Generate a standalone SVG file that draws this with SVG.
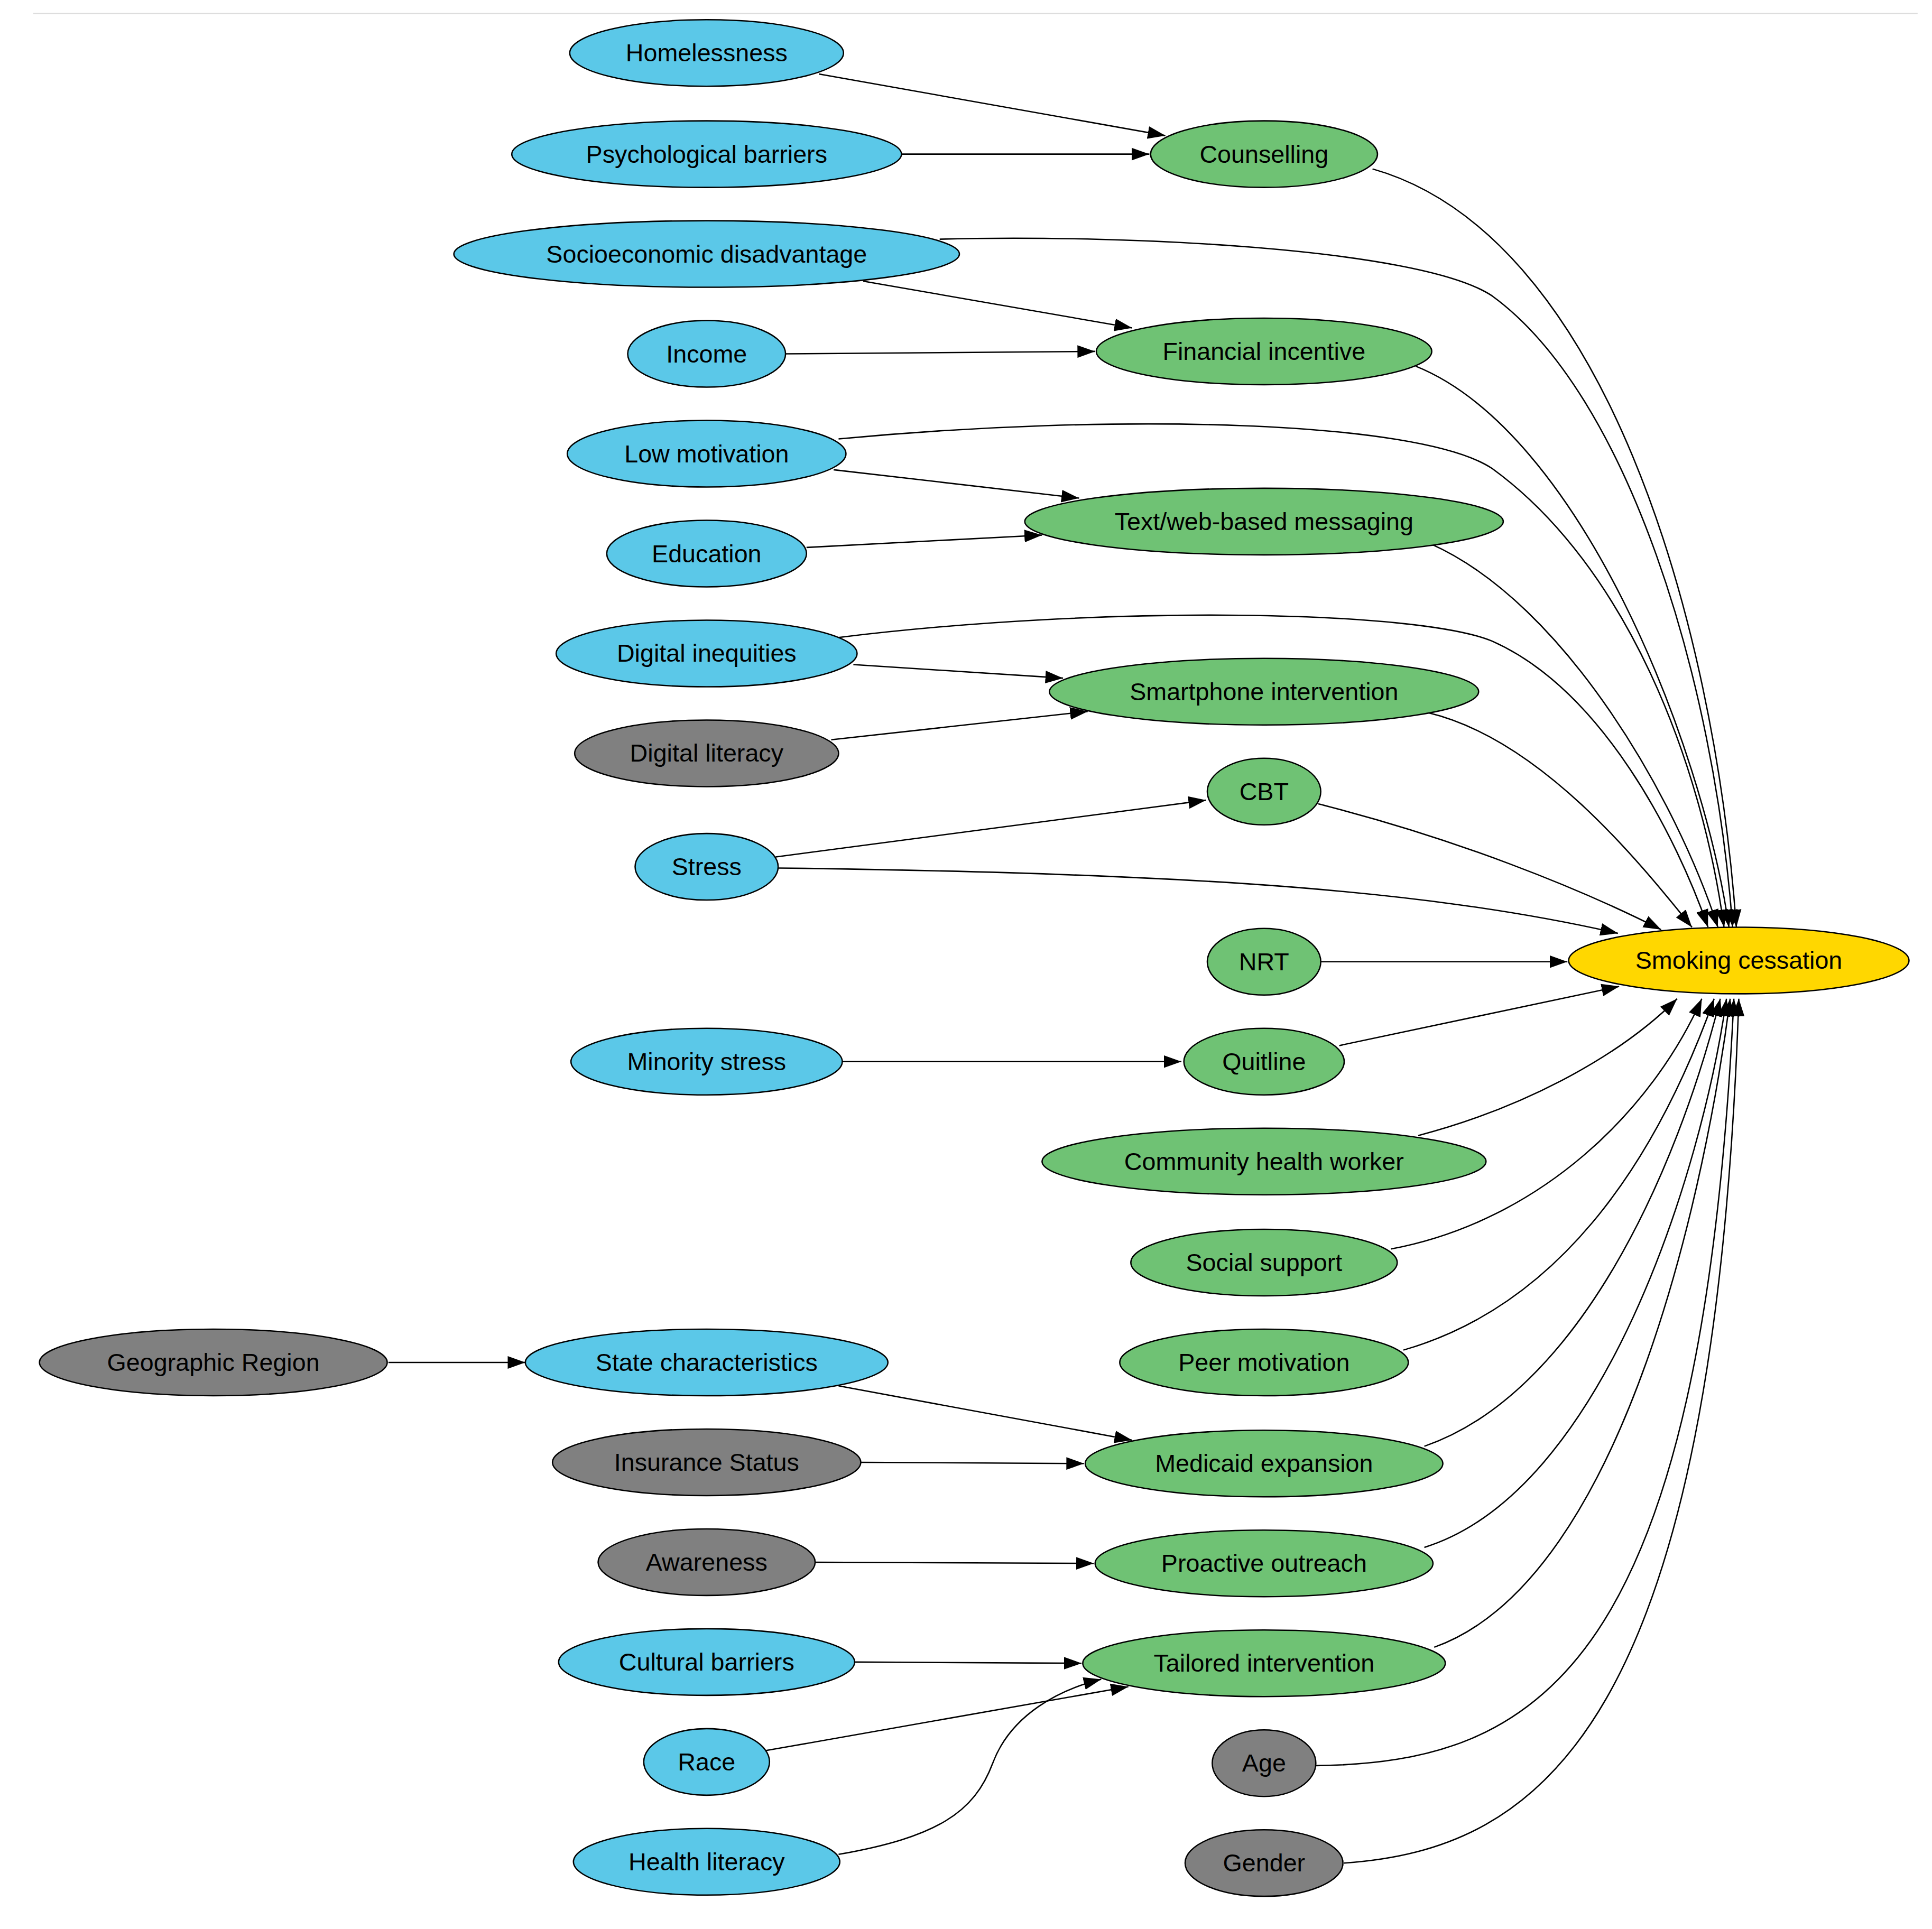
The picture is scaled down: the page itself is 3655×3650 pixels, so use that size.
<svg xmlns="http://www.w3.org/2000/svg" width="3655" height="3650" viewBox="0 0 3655 3650">
<style>
.n{stroke:#000;stroke-width:1.1}
.b{fill:#5bc8e8}.g{fill:#6fc274}.k{fill:#808080}.y{fill:#ffd700}
text{font-family:"Liberation Sans",Arial,sans-serif;font-size:20px;text-anchor:middle;dominant-baseline:central;fill:#000}
.e path{fill:none;stroke:#000;stroke-width:1.1;marker-end:url(#a)}
</style>
<defs><marker id="a" viewBox="0 0 14 10" refX="14" refY="5" markerWidth="13" markerHeight="9.5" orient="auto" markerUnits="strokeWidth"><path d="M0,0 L14,5 L0,10 z" fill="#000"/></marker></defs>
<rect width="3655" height="3650" fill="#fff"/>
<g transform="scale(2.333)">
<line x1="27" y1="11" x2="1555" y2="11" stroke="#ddd" stroke-width="1"/>
<g class="e" id="edges">
<path d="M664,60 L945,110"/>
<path d="M731,125 L932,125"/>
<path d="M700,228 L918,266"/>
<path d="M637,287 L888,285"/>
<path d="M676,381 L875,404"/>
<path d="M654,444 L845,434"/>
<path d="M692,539 L862,550"/>
<path d="M674,600 L882,577"/>
<path d="M629,695 L978,649"/>
<path d="M683,861 L958,861"/>
<path d="M315,1105 L426,1105"/>
<path d="M680,1124 L918,1168"/>
<path d="M698,1186 L879,1187"/>
<path d="M661,1267 L887,1268"/>
<path d="M693,1348 L877,1349"/>
<path d="M620,1420 L915,1368"/>
<path d="M680,1504 C760,1490 790,1470 805,1430 C820,1390 860,1370 893,1362"/>
<path d="M1113,137 C1300,190 1390,500 1408,752"/>
<path d="M762,194 C900,190 1150,200 1210,240 C1320,320 1390,550 1405,752"/>
<path d="M1148,297 C1280,350 1380,600 1402,752"/>
<path d="M680,356 C900,335 1150,340 1210,380 C1320,460 1380,620 1398,752"/>
<path d="M1160,441 C1270,490 1360,650 1393,752"/>
<path d="M680,517 C900,490 1150,495 1210,520 C1300,560 1360,680 1385,752"/>
<path d="M1158,578 C1250,600 1330,700 1372,752"/>
<path d="M1069,652 C1180,680 1280,720 1347,754"/>
<path d="M631,704 C950,708 1150,720 1312,757"/>
<path d="M1071,780 L1271,780"/>
<path d="M1086,848 L1313,800"/>
<path d="M1150,921 C1230,900 1310,860 1360,810"/>
<path d="M1128,1013 C1250,990 1340,900 1380,810"/>
<path d="M1138,1095 C1260,1060 1340,950 1390,810"/>
<path d="M1155,1173 C1280,1130 1360,950 1395,810"/>
<path d="M1155,1255 C1300,1210 1380,950 1400,810"/>
<path d="M1163,1336 C1320,1280 1385,950 1403,810"/>
<path d="M1067,1432 C1250,1430 1380,1350 1406,810"/>
<path d="M1090,1511 C1250,1500 1390,1400 1410,810"/>
</g>
<g id="homelessness"><ellipse class="n b" cx="573" cy="43" rx="111" ry="27"/><text x="573" y="43">Homelessness</text></g>
<g id="psych"><ellipse class="n b" cx="573" cy="125" rx="158" ry="27"/><text x="573" y="125">Psychological barriers</text></g>
<g id="socio"><ellipse class="n b" cx="573" cy="206" rx="205" ry="27"/><text x="573" y="206">Socioeconomic disadvantage</text></g>
<g id="income"><ellipse class="n b" cx="573" cy="287" rx="64" ry="27"/><text x="573" y="287">Income</text></g>
<g id="lowmot"><ellipse class="n b" cx="573" cy="368" rx="113" ry="27"/><text x="573" y="368">Low motivation</text></g>
<g id="education"><ellipse class="n b" cx="573" cy="449" rx="81" ry="27"/><text x="573" y="449">Education</text></g>
<g id="digineq"><ellipse class="n b" cx="573" cy="530" rx="122" ry="27"/><text x="573" y="530">Digital inequities</text></g>
<g id="diglit"><ellipse class="n k" cx="573" cy="611" rx="107" ry="27"/><text x="573" y="611">Digital literacy</text></g>
<g id="stress"><ellipse class="n b" cx="573" cy="703" rx="58" ry="27"/><text x="573" y="703">Stress</text></g>
<g id="minority"><ellipse class="n b" cx="573" cy="861" rx="110" ry="27"/><text x="573" y="861">Minority stress</text></g>
<g id="geo"><ellipse class="n k" cx="173" cy="1105" rx="141" ry="27"/><text x="173" y="1105">Geographic Region</text></g>
<g id="state"><ellipse class="n b" cx="573" cy="1105" rx="147" ry="27"/><text x="573" y="1105">State characteristics</text></g>
<g id="insurance"><ellipse class="n k" cx="573" cy="1186" rx="125" ry="27"/><text x="573" y="1186">Insurance Status</text></g>
<g id="awareness"><ellipse class="n k" cx="573" cy="1267" rx="88" ry="27"/><text x="573" y="1267">Awareness</text></g>
<g id="cultural"><ellipse class="n b" cx="573" cy="1348" rx="120" ry="27"/><text x="573" y="1348">Cultural barriers</text></g>
<g id="race"><ellipse class="n b" cx="573" cy="1429" rx="51" ry="27"/><text x="573" y="1429">Race</text></g>
<g id="healthlit"><ellipse class="n b" cx="573" cy="1510" rx="108" ry="27"/><text x="573" y="1510">Health literacy</text></g>
<g id="counselling"><ellipse class="n g" cx="1025" cy="125" rx="92" ry="27"/><text x="1025" y="125">Counselling</text></g>
<g id="financial"><ellipse class="n g" cx="1025" cy="285" rx="136" ry="27"/><text x="1025" y="285">Financial incentive</text></g>
<g id="text"><ellipse class="n g" cx="1025" cy="423" rx="194" ry="27"/><text x="1025" y="423">Text/web-based messaging</text></g>
<g id="smartphone"><ellipse class="n g" cx="1025" cy="561" rx="174" ry="27"/><text x="1025" y="561">Smartphone intervention</text></g>
<g id="cbt"><ellipse class="n g" cx="1025" cy="642" rx="46" ry="27"/><text x="1025" y="642">CBT</text></g>
<g id="nrt"><ellipse class="n g" cx="1025" cy="780" rx="46" ry="27"/><text x="1025" y="780">NRT</text></g>
<g id="quitline"><ellipse class="n g" cx="1025" cy="861" rx="65" ry="27"/><text x="1025" y="861">Quitline</text></g>
<g id="chw"><ellipse class="n g" cx="1025" cy="942" rx="180" ry="27"/><text x="1025" y="942">Community health worker</text></g>
<g id="social"><ellipse class="n g" cx="1025" cy="1024" rx="108" ry="27"/><text x="1025" y="1024">Social support</text></g>
<g id="peer"><ellipse class="n g" cx="1025" cy="1105" rx="117" ry="27"/><text x="1025" y="1105">Peer motivation</text></g>
<g id="medicaid"><ellipse class="n g" cx="1025" cy="1187" rx="145" ry="27"/><text x="1025" y="1187">Medicaid expansion</text></g>
<g id="proactive"><ellipse class="n g" cx="1025" cy="1268" rx="137" ry="27"/><text x="1025" y="1268">Proactive outreach</text></g>
<g id="tailored"><ellipse class="n g" cx="1025" cy="1349" rx="147" ry="27"/><text x="1025" y="1349">Tailored intervention</text></g>
<g id="age"><ellipse class="n k" cx="1025" cy="1430" rx="42" ry="27"/><text x="1025" y="1430">Age</text></g>
<g id="gender"><ellipse class="n k" cx="1025" cy="1511" rx="64" ry="27"/><text x="1025" y="1511">Gender</text></g>
<g id="smoking"><ellipse class="n y" cx="1410" cy="779" rx="138" ry="27"/><text x="1410" y="779">Smoking cessation</text></g>
</g>
</svg>
